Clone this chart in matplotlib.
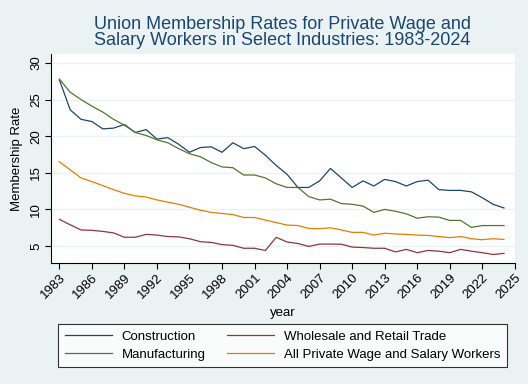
import numpy as np
import matplotlib.pyplot as plt

plt.rcParams['font.family'] = ['Liberation Sans', 'DejaVu Sans']

# Union membership rates (%), 1983-2024
years = np.arange(1983, 2025)

construction = [27.7, 23.6, 22.3, 22.0, 21.0, 21.1, 21.6, 20.5, 20.9, 19.6,
                19.8, 18.9, 17.8, 18.45, 18.55, 17.8, 19.1, 18.3, 18.6, 17.4,
                16.0, 14.8, 13.0, 13.0, 13.9, 15.6, 14.3, 13.0, 13.9, 13.2,
                14.1, 13.8, 13.2, 13.8, 14.0, 12.7, 12.6, 12.6, 12.4, 11.6,
                10.7, 10.2]
wholesale_retail = [8.65, 7.9, 7.2, 7.15, 7.0, 6.8, 6.2, 6.2, 6.6, 6.5,
                    6.3, 6.25, 6.0, 5.6, 5.5, 5.2, 5.1, 4.7, 4.7, 4.4,
                    6.2, 5.55, 5.35, 4.95, 5.27, 5.27, 5.25, 4.86, 4.8, 4.7,
                    4.7, 4.2, 4.55, 4.1, 4.4, 4.3, 4.1, 4.55, 4.3, 4.1,
                    3.85, 4.0]
manufacturing = [27.8, 26.0, 25.0, 24.1, 23.3, 22.3, 21.5, 20.5, 20.1, 19.5,
                 19.1, 18.3, 17.6, 17.2, 16.4, 15.8, 15.7, 14.7, 14.7, 14.3,
                 13.5, 13.0, 13.0, 11.75, 11.3, 11.4, 10.8, 10.7, 10.46, 9.6,
                 10.0, 9.75, 9.4, 8.8, 9.0, 8.95, 8.5, 8.5, 7.55, 7.8,
                 7.8, 7.8]
all_private = [16.5, 15.4, 14.3, 13.8, 13.25, 12.7, 12.2, 11.85, 11.7, 11.3,
               11.0, 10.7, 10.3, 9.9, 9.6, 9.45, 9.3, 8.9, 8.9, 8.55,
               8.2, 7.87, 7.8, 7.4, 7.37, 7.5, 7.2, 6.87, 6.87, 6.5,
               6.75, 6.65, 6.6, 6.5, 6.45, 6.3, 6.15, 6.3, 6.0, 5.87,
               6.0, 5.9]

xticks = np.arange(1983, 2026, 3)
yticks = [5, 10, 15, 20, 25, 30]

bg = '#eaf2f3'
fig = plt.figure(figsize=(5.28, 3.84), dpi=100, facecolor=bg)
ax = fig.add_axes([0.096, 0.314, 0.879, 0.545])
ax.set_facecolor('white')

l1, = ax.plot(years, construction, color='#1a476f', lw=0.9, label='Construction')
l2, = ax.plot(years, wholesale_retail, color='#90353b', lw=0.9, label='Wholesale and Retail Trade')
l3, = ax.plot(years, manufacturing, color='#55752f', lw=0.9, label='Manufacturing')
l4, = ax.plot(years, all_private, color='#e37e00', lw=0.9, label='All Private Wage and Salary Workers')

ax.set_xlim(1982.2, 2025)
ax.set_ylim(2.63, 31.2)
ax.set_xticks(xticks)
ax.set_xticklabels([str(x) for x in xticks], rotation=45, ha='right',
                   rotation_mode='anchor', fontsize=9.5)
ax.set_yticks(yticks)
ax.set_yticklabels([str(y) for y in yticks], rotation=90, va='center', fontsize=9.5)
ax.grid(axis='y', color=bg, lw=0.9)
ax.set_axisbelow(True)
for s in ['top', 'right']:
    ax.spines[s].set_visible(False)
for s in ['left', 'bottom']:
    ax.spines[s].set_linewidth(0.8)
ax.tick_params(length=4, width=0.8, pad=2)

ax.set_xlabel('year', fontsize=9.5, labelpad=4)
ax.set_ylabel('Membership Rate', fontsize=9.5, labelpad=5)
fig.text(0.535, 0.916, 'Union Membership Rates for Private Wage and\nSalary Workers in Select Industries: 1983-2024',
         ha='center', va='center', fontsize=13, color='#1a476f', linespacing=0.95)

leg = fig.legend(handles=[l1, l3, l2, l4], ncol=2, loc='center',
                 bbox_to_anchor=(0.535, 0.1), fontsize=9.5, frameon=True,
                 fancybox=False, edgecolor='black', handlelength=3.6,
                 handletextpad=0.7, columnspacing=1.6, borderpad=0.5,
                 labelspacing=0.45)
leg.get_frame().set_linewidth(0.8)

fig.savefig('out.png', dpi=100, facecolor=bg)
